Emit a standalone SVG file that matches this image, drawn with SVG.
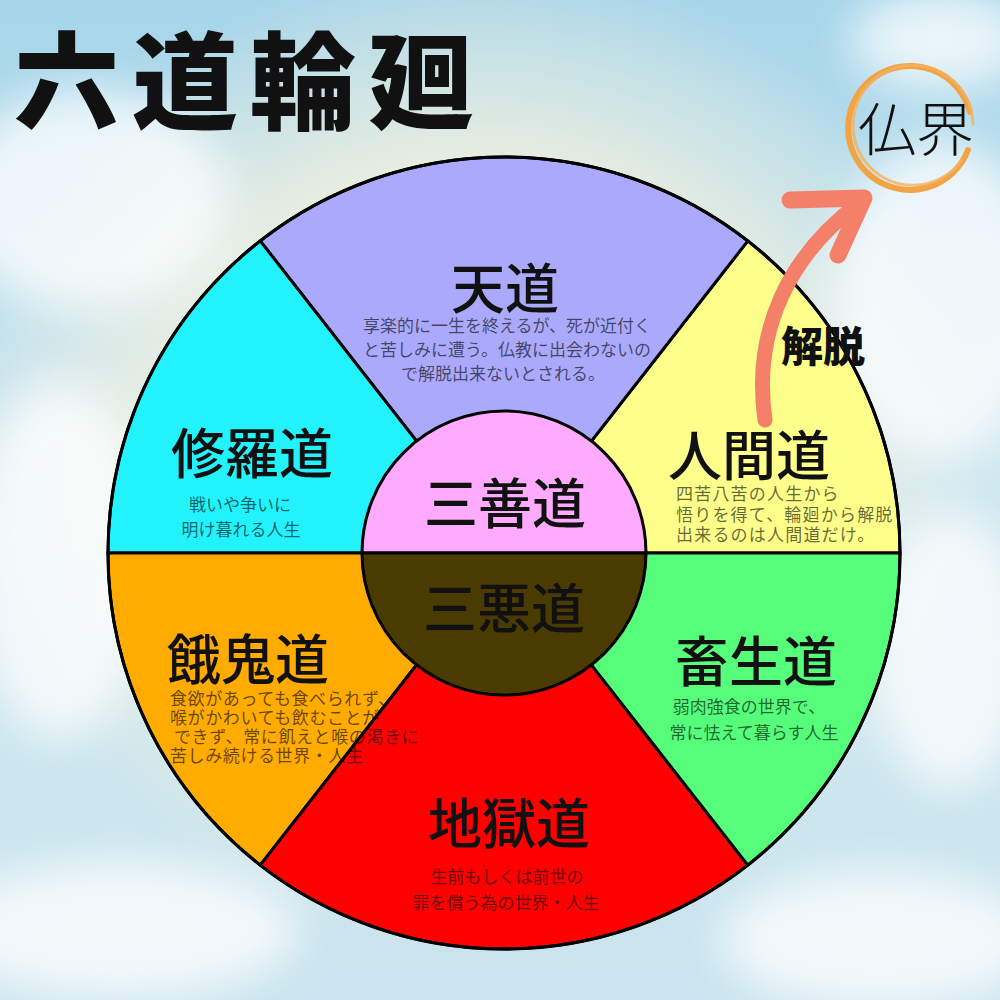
<svg xmlns="http://www.w3.org/2000/svg" width="1000" height="1000" viewBox="0 0 1000 1000">
<defs>
<linearGradient id="sky" x1="0" y1="0" x2="0" y2="1">
<stop offset="0" stop-color="#a6d5ea"/>
<stop offset="0.45" stop-color="#cfe7ef"/>
<stop offset="1" stop-color="#c9e4ee"/>
</linearGradient>
<radialGradient id="glow" cx="0.48" cy="0.45" r="0.5">
<stop offset="0" stop-color="#fff4cf" stop-opacity="1"/>
<stop offset="0.6" stop-color="#f9f3dc" stop-opacity="0.7"/>
<stop offset="1" stop-color="#f9f3dc" stop-opacity="0"/>
</radialGradient>
<filter id="blur" x="-50%" y="-50%" width="200%" height="200%"><feGaussianBlur stdDeviation="22"/></filter>
<style>
.seg{stroke:#000;stroke-width:3;stroke-linejoin:round}
.lbl{font-family:"Noto Sans CJK JP","Noto Sans CJK SC",sans-serif;font-weight:500;font-size:54px;fill:#111;text-anchor:middle;dominant-baseline:central}
.sm{font-family:"Noto Sans CJK JP","Noto Sans CJK SC",sans-serif;font-weight:400;font-size:17px;fill:#000;fill-opacity:0.6}
.mid{text-anchor:middle}
</style>
</defs>
<g id="background">
<rect width="1000" height="1000" fill="url(#sky)"/>
<rect width="1000" height="1000" fill="url(#glow)"/>
<g fill="#ffffff" opacity="0.75" filter="url(#blur)">
<ellipse cx="90" cy="200" rx="140" ry="110"/>
<ellipse cx="60" cy="560" rx="90" ry="180"/>
<ellipse cx="940" cy="300" rx="110" ry="160"/>
<ellipse cx="950" cy="650" rx="80" ry="140"/>
<ellipse cx="120" cy="930" rx="180" ry="70"/>
<ellipse cx="880" cy="940" rx="160" ry="70"/>
<ellipse cx="940" cy="40" rx="90" ry="50"/>
</g>
</g>
<g id="title">
<text x="14" y="121" font-family="'Noto Sans CJK JP','Noto Sans CJK SC',sans-serif" font-weight="900" font-size="106" letter-spacing="12" fill="#111">六道輪廻</text>
</g>
<g id="wheel">
<g id="node-ningen"><path class="seg" fill="#fefe8a" d="M504,553 L900,553 A396,396 0 0 0 747.8,240.9 Z"/></g>
<g id="node-ten"><path class="seg" fill="#aaa9fb" d="M504,553 L747.8,240.9 A396,396 0 0 0 260.2,240.9 Z"/></g>
<g id="node-shura"><path class="seg" fill="#22f2fb" d="M504,553 L260.2,240.9 A396,396 0 0 0 108,553 Z"/></g>
<g id="node-gaki"><path class="seg" fill="#ffab00" d="M504,553 L108,553 A396,396 0 0 0 260.2,865.1 Z"/></g>
<g id="node-jigoku"><path class="seg" fill="#fe0000" d="M504,553 L260.2,865.1 A396,396 0 0 0 747.8,865.1 Z"/></g>
<g id="node-chikusho"><path class="seg" fill="#55fd7a" d="M504,553 L747.8,865.1 A396,396 0 0 0 900,553 Z"/></g>
<g id="node-sanzen"><path class="seg" fill="#feaaff" d="M362,553 A142,142 0 0 1 646,553 Z"/></g>
<g id="node-sanaku"><path class="seg" fill="#4a3c00" d="M362,553 A142,142 0 0 0 646,553 Z"/></g>
<circle cx="504" cy="553" r="396" fill="none" stroke="#000" stroke-width="3"/>
</g>
<g id="labels">
<text class="lbl" x="505" y="285">天道</text>
<text class="sm mid" x="507" y="332">享楽的に一生を終えるが、死が近付く</text>
<text class="sm mid" x="507" y="356">と苦しみに遭う。仏教に出会わないの</text>
<text class="sm mid" x="503" y="380">で解脱出来ないとされる。</text>

<text class="lbl" x="252" y="450">修羅道</text>
<text class="sm mid" x="240" y="511" font-size="18">戦いや争いに</text>
<text class="sm mid" x="241" y="536" font-size="18">明け暮れる人生</text>

<text class="lbl" x="749" y="452">人間道</text>
<text class="sm" x="676" y="500" font-size="16.5" letter-spacing="1.2">四苦八苦の人生から</text>
<text class="sm" x="676" y="521" font-size="16.5" letter-spacing="1.2">悟りを得て、輪廻から解脱</text>
<text class="sm" x="676" y="541" font-size="16.5" letter-spacing="1.2">出来るのは人間道だけ。</text>

<text class="lbl" x="505" y="500">三善道</text>
<text class="lbl" x="504" y="605">三悪道</text>

<text class="lbl" x="248" y="656">餓鬼道</text>
<text class="sm" x="170" y="705" font-size="13" letter-spacing="0.6">食欲があっても食べられず、</text>
<text class="sm" x="170" y="724" font-size="13" letter-spacing="0.6">喉がかわいても飲むことが</text>
<text class="sm" x="174" y="743" font-size="13" letter-spacing="0.6">できず、常に飢えと喉の渇きに</text>
<text class="sm" x="170" y="762" font-size="13" letter-spacing="0.6">苦しみ続ける世界・人生</text>

<text class="lbl" x="756" y="658">畜生道</text>
<text class="sm mid" x="749" y="713" font-size="18">弱肉強食の世界で、</text>
<text class="sm mid" x="754" y="739" font-size="18">常に怯えて暮らす人生</text>

<text class="lbl" x="509" y="820">地獄道</text>
<text class="sm mid" x="507" y="883" font-size="18" fill-opacity="0.42">生前もしくは前世の</text>
<text class="sm mid" x="506" y="909" font-size="18" fill-opacity="0.42">罪を償う為の世界・人生</text>
</g>
<g id="node-butsukai">
<path d="M968,150 A62,62 0 1 1 970,112" fill="none" stroke="#f2a445" stroke-width="6" stroke-linecap="round"/>
<path d="M962,160 A60,60 0 1 1 973,124" fill="none" stroke="#f5b060" stroke-width="3" stroke-linecap="round" opacity="0.8"/>
<text x="916" y="126" font-family="'Noto Sans CJK JP','Noto Sans CJK SC',sans-serif" font-weight="300" font-size="58" fill="#111" text-anchor="middle" dominant-baseline="central">仏界</text>
</g>
<g id="connectors">
<path d="M765,420 C752,330 790,255 858,204" fill="none" stroke="#f4806a" stroke-width="15" stroke-linecap="round"/>
<path d="M790,200 L864,198 L838,255" fill="none" stroke="#f4806a" stroke-width="17" stroke-linecap="round" stroke-linejoin="round"/>
<text x="823" y="343" font-family="'Noto Sans CJK JP','Noto Sans CJK SC',sans-serif" font-weight="900" font-size="42" fill="#111" text-anchor="middle" dominant-baseline="central">解脱</text>
</g>
</svg>
